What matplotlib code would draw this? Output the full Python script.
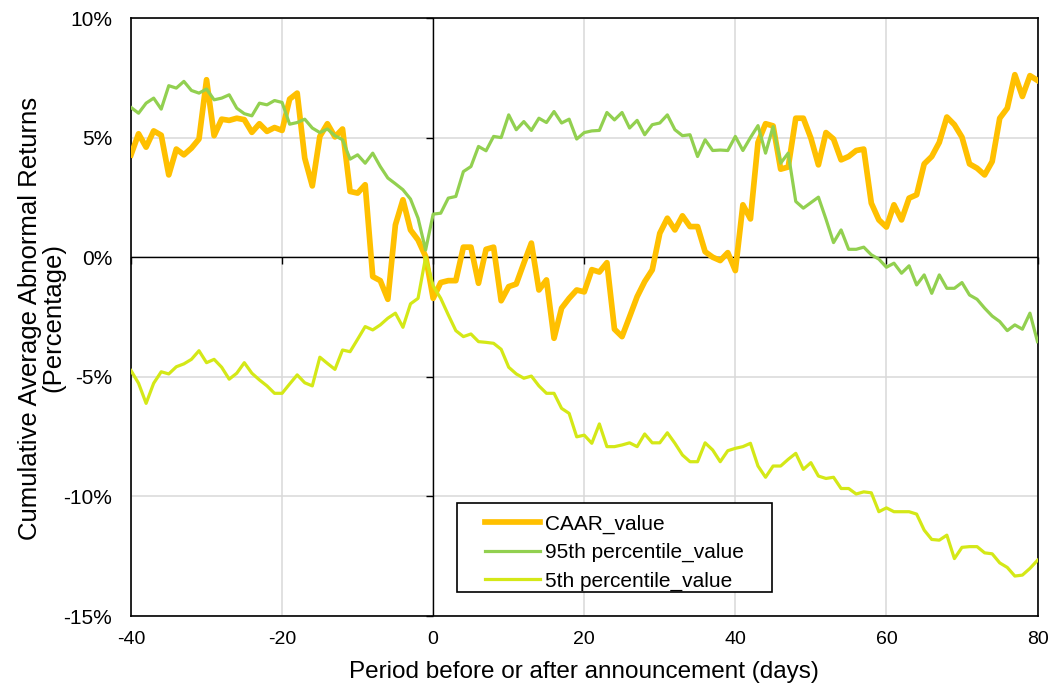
import numpy as np
import matplotlib
matplotlib.use("Agg")
import matplotlib.pyplot as plt
import matplotlib.ticker as ticker
from matplotlib.patches import Rectangle

plt.rcParams['axes.unicode_minus'] = False
plt.rcParams['font.family'] = ['Liberation Sans', 'DejaVu Sans']

# event days -40 .. 80
days = np.arange(-40, 81)

# values in percent
caar = [
    4.28, 5.16, 4.60, 5.28, 5.10, 3.44, 4.52, 4.28, 4.56, 4.94,
    7.42, 5.08, 5.77, 5.72, 5.81, 5.75, 5.22, 5.58, 5.26, 5.42,
    5.30, 6.61, 6.86, 4.14, 2.98, 5.05, 5.58, 5.03, 5.36, 2.75,
    2.68, 3.03, -0.81, -0.98, -1.76, 1.35, 2.40, 1.14, 0.72, 0.03,
    -1.72, -1.06, -0.98, -0.98, 0.42, 0.42, -1.09, 0.33, 0.42, -1.82,
    -1.23, -1.12, -0.25, 0.59, -1.37, -0.95, -3.39, -2.13, -1.72, -1.37,
    -1.45, -0.52, -0.62, -0.23, -3.01, -3.32, -2.49, -1.65, -1.02, -0.53,
    1.00, 1.63, 1.14, 1.73, 1.28, 1.28, 0.23, 0.00, -0.14, 0.19,
    -0.56, 2.19, 1.60, 4.80, 5.58, 5.49, 3.68, 3.77, 5.81, 5.81,
    4.98, 3.86, 5.21, 4.94, 4.07, 4.21, 4.46, 4.52, 2.26, 1.56,
    1.26, 2.19, 1.56, 2.47, 2.61, 3.90, 4.21, 4.80, 5.86, 5.54,
    5.02, 3.90, 3.72, 3.44, 4.00, 5.81, 6.23, 7.63, 6.72, 7.59,
    7.39,
]

p95 = [
    6.26, 6.02, 6.44, 6.65, 6.19, 7.17, 7.07, 7.35, 6.97, 6.86,
    7.03, 6.58, 6.65, 6.79, 6.23, 6.00, 5.91, 6.44, 6.37, 6.55,
    6.47, 5.56, 5.63, 5.77, 5.40, 5.21, 5.36, 5.08, 4.91, 4.10,
    4.28, 3.93, 4.35, 3.79, 3.31, 3.07, 2.82, 2.43, 1.63, 0.30,
    1.80, 1.84, 2.47, 2.54, 3.58, 3.79, 4.63, 4.45, 5.05, 5.00,
    5.95, 5.33, 5.67, 5.30, 5.81, 5.63, 6.09, 5.61, 5.77, 4.94,
    5.21, 5.28, 5.30, 6.05, 5.74, 6.05, 5.40, 5.72, 5.12, 5.54,
    5.61, 5.95, 5.33, 5.08, 5.12, 4.21, 4.91, 4.46, 4.48, 4.46,
    5.05, 4.46, 5.00, 5.50, 4.35, 5.46, 3.93, 4.35, 2.33, 2.05,
    2.28, 2.51, 1.59, 0.61, 1.14, 0.33, 0.33, 0.42, 0.10, -0.08,
    -0.42, -0.25, -0.67, -0.36, -1.16, -0.74, -1.51, -0.74, -1.30, -1.30,
    -1.06, -1.58, -1.76, -2.13, -2.46, -2.69, -3.07, -2.83, -3.01, -2.34,
    -3.53,
]

p5 = [
    -4.74, -5.27, -6.11, -5.27, -4.79, -4.88, -4.58, -4.46, -4.27, -3.91,
    -4.41, -4.27, -4.60, -5.10, -4.85, -4.41, -4.85, -5.13, -5.38, -5.69,
    -5.69, -5.30, -4.92, -5.25, -5.38, -4.18, -4.44, -4.69, -3.88, -3.95,
    -3.43, -2.90, -3.04, -2.83, -2.55, -2.34, -2.93, -1.95, -1.72, 0.00,
    -1.20, -1.72, -2.41, -3.07, -3.32, -3.21, -3.53, -3.56, -3.60, -3.85,
    -4.60, -4.88, -5.06, -4.97, -5.38, -5.69, -5.69, -6.32, -6.53, -7.51,
    -7.44, -7.78, -6.97, -7.92, -7.92, -7.85, -7.76, -7.92, -7.39, -7.76,
    -7.76, -7.34, -7.78, -8.27, -8.55, -8.55, -7.76, -8.06, -8.55, -8.09,
    -7.99, -7.92, -7.78, -8.73, -9.20, -8.73, -8.73, -8.45, -8.20, -8.87,
    -8.59, -9.15, -9.25, -9.20, -9.67, -9.67, -9.90, -9.81, -9.85, -10.64,
    -10.48, -10.64, -10.64, -10.64, -10.74, -11.41, -11.80, -11.83, -11.62, -12.60,
    -12.13, -12.10, -12.10, -12.36, -12.40, -12.78, -12.97, -13.33, -13.29, -13.01,
    -12.67,
]

x_ticks = [-40, -20, 0, 20, 40, 60, 80]
y_ticks = [-15, -10, -5, 0, 5, 10]

fig = plt.figure(figsize=(10.57, 6.88), dpi=100)
ax = fig.add_axes([131 / 1057, 1 - 616 / 688, 906.5 / 1057, 598 / 688])
ax.set_axisbelow(True)

ax.plot(days, caar, color='#FFC000', lw=4.1, label='CAAR_value', zorder=3,
        solid_joinstyle='round')
ax.plot(days, p95, color='#92D050', lw=2.3, label='95th percentile_value', zorder=4)
ax.plot(days, p5, color='#D4E817', lw=2.3, label='5th percentile_value', zorder=5)

ax.set_xlim(-40, 80)
ax.set_ylim(-15, 10)
ax.set_xticks(x_ticks)
ax.set_yticks(y_ticks)
ax.yaxis.set_major_formatter(ticker.FuncFormatter(lambda v, pos: f'{v:.0f}%'))
ax.tick_params(length=0, colors='black')
ax.tick_params(axis='y', labelsize=15, pad=13.5)
ax.tick_params(axis='x', labelsize=14, pad=11)

ax.grid(True, color='#D9D9D9', lw=1.1)
for sp in ax.spines.values():
    sp.set_color('black')
    sp.set_linewidth(1.2)

# axes crossing at zero, Excel style, with small ticks
ax.axhline(0, color='black', lw=1.0, zorder=1.6)
ax.axvline(0, color='black', lw=1.0, zorder=1.6)
ax.plot(x_ticks, np.zeros(len(x_ticks)), ls='none', marker=3, ms=5, mew=1.0,
        color='black', zorder=1.6, clip_on=False)
ax.plot(np.zeros(len(y_ticks)), y_ticks, ls='none', marker=0, ms=5, mew=1.0,
        color='black', zorder=1.6, clip_on=False)

ax.set_xlabel('Period before or after announcement (days)', fontsize=17.5,
              labelpad=9)
fig.text(42 / 1057, 1 - 318 / 688,
         'Cumulative Average Abnormal Returns\n(Percentage)',
         rotation=90, ha='center', va='center', fontsize=18.5,
         linespacing=0.95)

# legend box
box = Rectangle((457 / 1057, 1 - 592 / 688), 315 / 1057, 89 / 688,
                transform=fig.transFigure, facecolor='white', edgecolor='black',
                lw=1.2, zorder=8, clip_on=False)
ax.add_patch(box)
leg = ax.legend(loc='upper left', bbox_to_anchor=(475 / 1057, 1 - 504 / 688),
                bbox_transform=fig.transFigure, frameon=False, borderpad=0,
                fontsize=15, handlelength=2.6, handletextpad=0.25,
                labelspacing=0.45)
leg.set_zorder(9)

fig.savefig('out.png', dpi=100)
